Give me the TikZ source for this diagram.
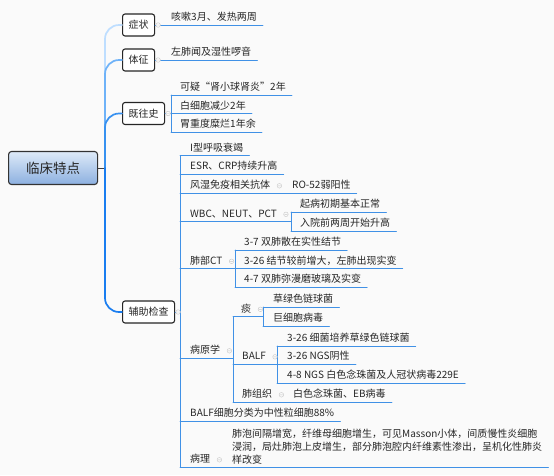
\documentclass[tikz,border=0pt]{standalone}
\usepackage{fontspec}
\setmainfont{Noto Sans CJK SC}
\definecolor{lnblue}{RGB}{64,145,230}
\definecolor{brA}{RGB}{190,222,255}
\definecolor{brB}{RGB}{110,178,248}
\definecolor{brC}{RGB}{55,145,240}
\definecolor{brD}{RGB}{25,125,240}
\definecolor{paper}{RGB}{250,250,250}
\definecolor{rtop}{RGB}{222,234,248}
\definecolor{rbot}{RGB}{140,176,224}
\tikzset{
	root/.style={draw=black!80,line width=1.1pt,rounded corners=3pt,top color=rtop,bottom color=rbot,minimum width=89pt,minimum height=33pt,font=\fontsize{13.5}{16}\selectfont},
	topic/.style={draw=black!85,line width=1.1pt,rounded corners=2.5pt,fill=white,minimum height=22pt,inner xsep=6pt},
	leaf/.style={anchor=south west,inner xsep=6pt,inner ysep=2pt,text height=8pt,text depth=2pt},
	ul/.style={draw=lnblue,line width=.9pt},
	br/.style={line width=1.7pt,rounded corners=14pt},
	fold/.style={draw=gray!45,fill=paper,line width=.4pt}
}
\begin{document}
\begin{tikzpicture}[line join=round,line cap=round,x=1pt,y=-1pt,font=\fontsize{10}{12}\selectfont,text=black!85]
	\fill[paper] (0,0) rectangle (554,475);
	\useasboundingbox (0,0) rectangle (554,475);
	\path 
	(105,168)coordinate(tr)
	(171,113.5)coordinate(jwb)
	(180,312)coordinate(fzb)
	(291,221.5)coordinate(wbb)
	(235,268.5)coordinate(ctb)
	(233,358)coordinate(byb)
	(263,316.5)coordinate(tnb)
	(277,364)coordinate(bab)
	;
	\node[root,anchor=west] (rt) at (8,168) {临床特点};
	\node[topic,anchor=west] (zz) at (122,25) {症状};
	\node[topic,anchor=west] (tz) at (122,60) {体征};
	\node[topic,anchor=west] (jw) at (122,113.5) {既往史};
	\node[topic,anchor=west] (fz) at (122,312) {辅助检查};
	% main branches
	\draw[line width=.8pt,black!75] (rt.east) -- (tr);
	\draw[br,brA] (tr) |- (zz.west);
	\draw[br,brB] (tr) |- (tz.west);
	\draw[br,brC] (tr) |- (jw.west);
	\draw[br,brD] (tr) |- (fz.west);
	% symptoms, signs, history
	\node[leaf] (zz1) at (165,25) {咳嗽3月、发热两周};
	\node[leaf] (tz1) at (165,60) {左肺闻及湿性啰音};
	\node[leaf] (jw1) at (174,95) {可疑“肾小球肾炎”2年};
	\node[leaf] (jw2) at (174,113.5) {白细胞减少2年};
	\node[leaf] (jw3) at (174,132) {胃重度糜烂1年余};
	\draw[ul] (zz.east) -- (zz1.south east);
	\draw[ul] (tz.east) -- (tz1.south east);
	\draw[ul] (jw.east) -- (jwb);
	\draw[ul] (jwb|-jw1.south) -- (jwb|-jw3.south);
	\foreach \n in {jw1,jw2,jw3}
	\draw[ul] (jwb|-\n.south) -- (\n.south east);
	% examinations
	\node[leaf] (f1) at (184,155.5) {I型呼吸衰竭};
	\node[leaf] (f2) at (184,174) {ESR、CRP持续升高};
	\node[leaf] (f3) at (184,193) {风湿免疫相关抗体};
	\node[leaf] (f3a) at (286,193) {RO-52弱阳性};
	\node[leaf] (f4) at (184,221.5) {WBC、NEUT、PCT};
	\node[leaf] (f4a) at (294,212) {起病初期基本正常};
	\node[leaf] (f4b) at (294,231) {入院前两周开始升高};
	\node[leaf] (f5) at (184,268.5) {肺部CT};
	\node[leaf] (f5a) at (238,250) {3-7 双肺散在实性结节};
	\node[leaf] (f5b) at (238,268.5) {3-26 结节较前增大，左肺出现实变};
	\node[leaf] (f5c) at (238,287) {4-7 双肺弥漫磨玻璃及实变};
	\node[leaf] (f6) at (184,358) {病原学};
	\node[leaf] (f6a) at (235,316.5) {痰};
	\node[leaf] (f6a1) at (267,307) {草绿色链球菌};
	\node[leaf] (f6a2) at (267,326) {巨细胞病毒};
	\node[leaf] (f6b) at (236,364) {BALF};
	\node[leaf] (f6b1) at (281,346) {3-26 细菌培养草绿色链球菌};
	\node[leaf] (f6b2) at (281,364) {3-26 NGS阴性};
	\node[leaf] (f6b3) at (281,383) {4-8 NGS 白色念珠菌及人冠状病毒229E};
	\node[leaf] (f6c) at (236,402) {肺组织};
	\node[leaf] (f6c1) at (287,402) {白色念珠菌、EB病毒};
	\node[leaf] (f7) at (184,421) {BALF细胞分类为中性粒细胞88\%};
	\node[leaf] (f8) at (184,467) {病理};
	\node[anchor=south west,inner xsep=6pt,inner ysep=2pt,align=left,font=\fontsize{10}{13.3}\selectfont] (f8a) at (226,467)
	{肺泡间隔增宽，纤维母细胞增生，可见Masson小体，间质慢性炎细胞\\浸润，局灶肺泡上皮增生，部分肺泡腔内纤维素性渗出，呈机化性肺炎\\样改变};
	\draw[ul] (fz.east) -- (fzb);
	\draw[ul] (fzb|-f1.south) -- (fzb|-f8.south);
	\foreach \n in {f1,f2,f7}
	\draw[ul] (fzb|-\n.south) -- (\n.south east);
	\draw[ul] (fzb|-f3.south) -- (f3a.south east);
	\draw[ul] (fzb|-f8.south) -- (f8a.south east);
	\draw[ul] (fzb|-f4.south) -- (wbb);
	\draw[ul] (wbb|-f4a.south) -- (wbb|-f4b.south);
	\foreach \n in {f4a,f4b}
	\draw[ul] (wbb|-\n.south) -- (\n.south east);
	\draw[ul] (fzb|-f5.south) -- (ctb);
	\draw[ul] (ctb|-f5a.south) -- (ctb|-f5c.south);
	\foreach \n in {f5a,f5b,f5c}
	\draw[ul] (ctb|-\n.south) -- (\n.south east);
	\draw[ul] (fzb|-f6.south) -- (byb);
	\draw[ul] (byb|-f6a.south) -- (byb|-f6c.south);
	\draw[ul] (byb|-f6a.south) -- (tnb);
	\draw[ul] (byb|-f6b.south) -- (bab);
	\draw[ul] (byb|-f6c.south) -- (f6c1.south east);
	\draw[ul] (tnb|-f6a1.south) -- (tnb|-f6a2.south);
	\foreach \n in {f6a1,f6a2}
	\draw[ul] (tnb|-\n.south) -- (\n.south east);
	\draw[ul] (bab|-f6b1.south) -- (bab|-f6b3.south);
	\foreach \n in {f6b1,f6b2,f6b3}
	\draw[ul] (bab|-\n.south) -- (\n.south east);
	% fold marks
	\foreach \n in {zz,tz,jw,fz,f3,f4,f5,f6,f6a,f6b,f6c,f8}
	\draw[fold] ([xshift=3pt]\n.east) circle (2.3pt) ++(-1.2pt,0) -- ++(2.4pt,0);
\end{tikzpicture}
\end{document}
